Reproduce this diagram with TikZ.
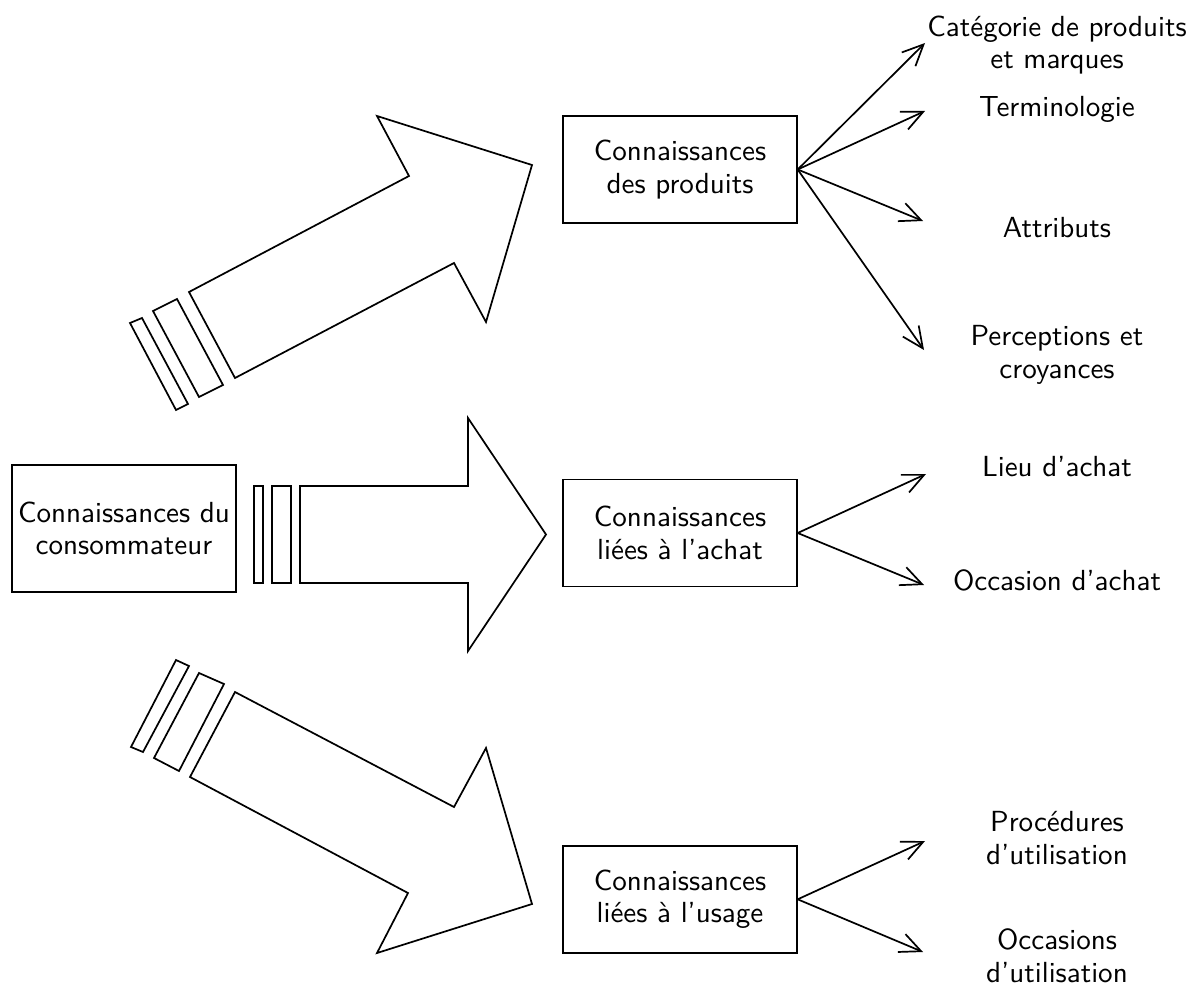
\documentclass[tikz,border=0pt]{standalone}
\usetikzlibrary{arrows.meta}
\begin{document}
\begin{tikzpicture}[x=0.351pt, y=-0.351pt, line width=0.6pt,
  font=\sffamily\fontsize{10.2pt}{11.5pt}\selectfont,
  box/.style={draw, align=center, inner sep=0pt, minimum width=82pt, minimum height=37.6pt},
  label/.style={align=center, inner sep=0pt},
  link/.style={-{Straight Barb[length=7.4pt, width=6.8pt, line width=0.6pt]}},
  blockarrow/.style={draw, line join=miter}]
\useasboundingbox (0,0) rectangle (1200,984);

% source box
\node[box, minimum width=78.6pt, minimum height=44.6pt] (consumer) at (124,528.5)
  {Connaissances du\\consommateur};

% the three knowledge boxes
\node[box] (prod)  at (680,169.5) {Connaissances\\des produits};
\node[box] (achat) at (680,533)   {Connaissances\\liées à l’achat};
\node[box] (usage) at (680,899.3) {Connaissances\\liées à l’usage};

% upper block arrow
\draw[blockarrow] (130,323) -- (142,318) -- (188,404) -- (176,410) -- cycle;
\draw[blockarrow] (153,311) -- (177,299) -- (223,385) -- (199,397) -- cycle;
\draw[blockarrow] (189,292) -- (409,176) -- (377,116) -- (532,165) -- (486,322) -- (454,263) -- (235,378) -- cycle;

% middle block arrow
\draw[blockarrow] (254,486) rectangle (263,583);
\draw[blockarrow] (272,486) rectangle (291,583);
\draw[blockarrow] (300,486) -- (468,486) -- (468,418) -- (546,534.5) -- (468,651) -- (468,583) -- (300,583) -- cycle;

% lower block arrow
\draw[blockarrow] (131,747) -- (176,660) -- (189,666) -- (143,752) -- cycle;
\draw[blockarrow] (154,758) -- (199,673) -- (224,684) -- (179,771) -- cycle;
\draw[blockarrow] (235,692) -- (454,807) -- (486,748) -- (532,904) -- (377,953) -- (408,893) -- (190,777) -- cycle;

% product knowledge items
\node[label] (cat)   at (1057,45)    {Catégorie de produits\\et marques};
\node[label] (term)  at (1057,109)   {Terminologie};
\node[label] (attr)  at (1057,228)   {Attributs};
\node[label] (perc)  at (1057,355)   {Perceptions et\\croyances};
\coordinate (catTip)  at (925,43);
\coordinate (termTip) at (925,111);
\coordinate (attrTip) at (923,221);
\coordinate (percTip) at (924,350);
\draw[link] (prod.east) -- (catTip);
\draw[link] (prod.east) -- (termTip);
\draw[link] (prod.east) -- (attrTip);
\draw[link] (prod.east) -- (percTip);

% purchase knowledge items
\node[label] (lieu) at (1057,467)   {Lieu d’achat};
\node[label] (occa) at (1057,580)   {Occasion d’achat};
\coordinate (lieuTip) at (926,474);
\coordinate (occaTip) at (924,585);
\draw[link] (achat.east) -- (lieuTip);
\draw[link] (achat.east) -- (occaTip);

% usage knowledge items
\node[label] (proc) at (1057,838) {Procédures\\d’utilisation};
\node[label] (occu) at (1057,956)   {Occasions\\d’utilisation};
\coordinate (procTip) at (925,841);
\coordinate (occuTip) at (923,952);
\draw[link] (usage.east) -- (procTip);
\draw[link] (usage.east) -- (occuTip);
\end{tikzpicture}
\end{document}
